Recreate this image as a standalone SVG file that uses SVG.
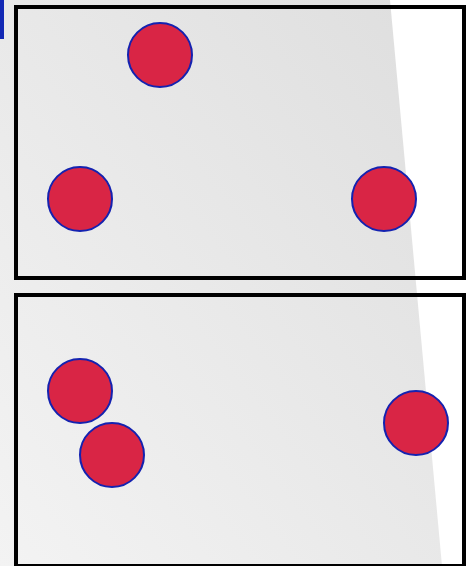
<svg xmlns="http://www.w3.org/2000/svg" width="471" height="566" viewBox="0 0 471 566">
<defs>
<linearGradient id="bg" x1="1" y1="0" x2="0" y2="1">
<stop offset="0" stop-color="#dedede"/>
<stop offset="1" stop-color="#f3f3f3"/>
</linearGradient>
<style>
.box{fill:none;stroke:#000;stroke-width:4}
.dot{fill:#d92545;stroke:#1422b0;stroke-width:2}
</style>
</defs>
<rect width="471" height="566" fill="#fff"/>
<polygon points="0,0 390,0 442,566 0,566" fill="url(#bg)"/>
<rect x="0" y="0" width="4" height="39" fill="#1228b4"/>
<g id="panel1"><rect class="box" x="16" y="7" width="448" height="271"/></g>
<g id="panel2"><rect class="box" x="16" y="295" width="448" height="271"/></g>
<g id="connectors"></g>
<g id="n1"><circle class="dot" cx="160" cy="55" r="32"/></g>
<g id="n2"><circle class="dot" cx="80" cy="199" r="32"/></g>
<g id="n3"><circle class="dot" cx="384" cy="199" r="32"/></g>
<g id="n4"><circle class="dot" cx="80" cy="391" r="32"/></g>
<g id="n5"><circle class="dot" cx="112" cy="455" r="32"/></g>
<g id="n6"><circle class="dot" cx="416" cy="423" r="32"/></g>
</svg>
